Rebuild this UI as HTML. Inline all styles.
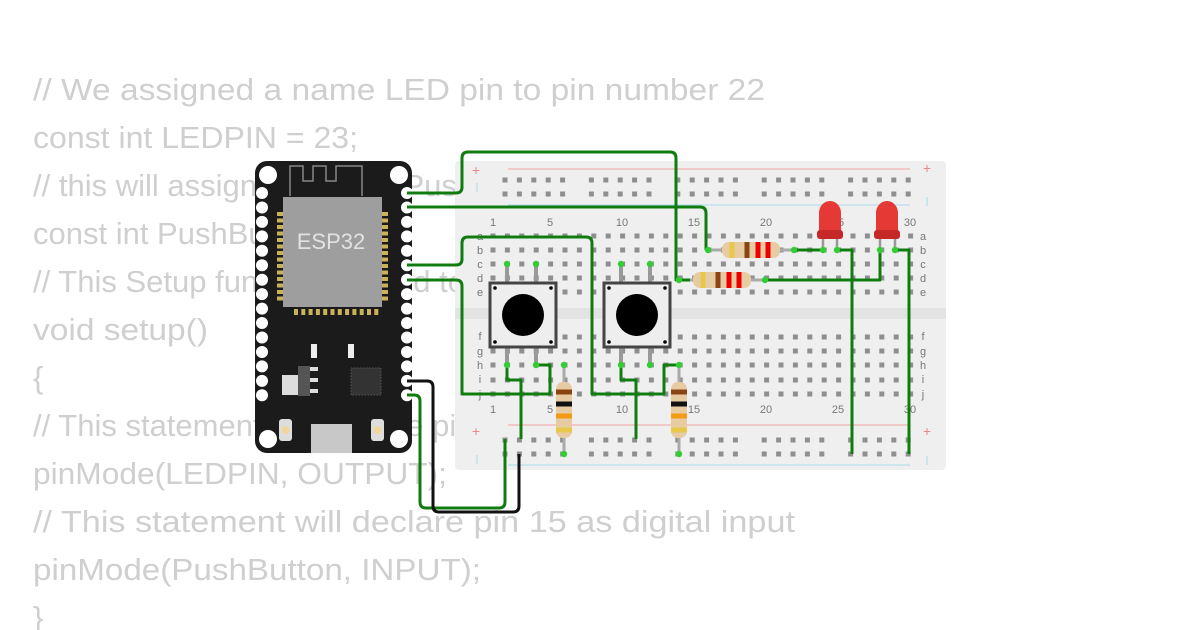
<!DOCTYPE html>
<html><head><meta charset="utf-8"><style>
html,body{margin:0;padding:0;background:#fff;}
svg{display:block}
.code{font-family:"Liberation Sans",sans-serif;font-size:31px;fill:#cfcfcf;}
.n{font-family:"Liberation Sans",sans-serif;font-size:11px;fill:#777;text-anchor:middle}
.pl{font-family:"Liberation Sans",sans-serif;font-size:6px;fill:#ddd}
</style></head><body>
<svg id="s" width="1200" height="630" viewBox="0 0 1200 630" xmlns="http://www.w3.org/2000/svg">
<g class="code">
<text x="33" y="100" textLength="732" lengthAdjust="spacingAndGlyphs">// We assigned a name LED pin to pin number 22</text>
<text x="33" y="148" textLength="325" lengthAdjust="spacingAndGlyphs">const int LEDPIN = 23;</text>
<text x="33" y="196">// this will assign the name PushButton to pin</text>
<text x="33" y="244">const int PushButton = 19;</text>
<text x="33" y="292">// This Setup function is used to</text>
<text x="33" y="340" textLength="175" lengthAdjust="spacingAndGlyphs">void setup()</text>
<text x="33" y="388">{</text>
<text x="33" y="436">// This statement will declare pin 22</text>
<text x="33" y="484" textLength="414" lengthAdjust="spacingAndGlyphs">pinMode(LEDPIN, OUTPUT);</text>
<text x="33" y="532" textLength="762" lengthAdjust="spacingAndGlyphs">// This statement will declare pin 15 as digital input</text>
<text x="33" y="580" textLength="448" lengthAdjust="spacingAndGlyphs">pinMode(PushButton, INPUT);</text>
<text x="33" y="628">}</text>
</g>

<!-- breadboard -->
<rect x="455" y="161" width="491" height="309" rx="4" fill="#efefef"/>
<rect x="455" y="308" width="491" height="11" fill="#e3e3e3"/>
<line x1="508" y1="169" x2="910" y2="169" stroke="#f2a0a0" stroke-width="1"/>
<line x1="508" y1="205" x2="910" y2="205" stroke="#a8d8ea" stroke-width="1"/>
<line x1="508" y1="425" x2="910" y2="425" stroke="#f2a0a0" stroke-width="1"/>
<line x1="508" y1="465" x2="910" y2="465" stroke="#a8d8ea" stroke-width="1"/>
<g font-family="Liberation Sans,sans-serif" font-size="14" fill="#e88" text-anchor="middle">
<text x="476" y="175">+</text><text x="927" y="173">+</text><text x="476" y="436">+</text><text x="927" y="436">+</text></g>
<g stroke="#a8d8ea" stroke-width="1"><line x1="477" y1="183" x2="477" y2="192"/><line x1="927" y1="197" x2="927" y2="206"/><line x1="477" y1="455" x2="477" y2="464"/><line x1="927" y1="456" x2="927" y2="465"/></g>
<g id="holes" fill="#8f8f8f"></g>
<g class="n">
<text x="493" y="226">1</text><text x="550" y="226">5</text><text x="622" y="226">10</text><text x="694" y="226">15</text><text x="766" y="226">20</text><text x="838" y="226">25</text><text x="910" y="226">30</text>
<text x="493" y="413">1</text><text x="550" y="413">5</text><text x="622" y="413">10</text><text x="694" y="413">15</text><text x="766" y="413">20</text><text x="838" y="413">25</text><text x="910" y="413">30</text>
<text x="480" y="240">a</text><text x="480" y="254">b</text><text x="480" y="268">c</text><text x="480" y="282">d</text><text x="480" y="296">e</text>
<text x="480" y="340">f</text><text x="480" y="355">g</text><text x="480" y="369">h</text><text x="480" y="383">i</text><text x="480" y="398">j</text>
<text x="923" y="240">a</text><text x="923" y="254">b</text><text x="923" y="268">c</text><text x="923" y="282">d</text><text x="923" y="296">e</text>
<text x="923" y="340">f</text><text x="923" y="355">g</text><text x="923" y="369">h</text><text x="923" y="383">i</text><text x="923" y="398">j</text>
</g>

<!-- ESP32 -->
<rect x="255" y="161" width="157" height="292" rx="12" fill="#1b1b1b"/>
<g fill="#fff"><circle cx="268" cy="175" r="9"/><circle cx="399" cy="175" r="9"/><circle cx="268" cy="439" r="9"/><circle cx="399" cy="439" r="9"/></g>
<path d="M290 196 V166 H303 V181 H313 V166 H326 V181 H336 V166 H362 V196" fill="none" stroke="#888" stroke-width="1.5"/>
<g id="espins" fill="#fff"></g>
<rect x="283" y="197" width="99" height="110" fill="#9e9e9e"/>
<text x="331" y="249" font-family="Liberation Sans,sans-serif" font-size="22" fill="#e2e2e2" text-anchor="middle">ESP32</text>
<g id="pads" fill="#c9b25a"></g>
<rect x="311" y="344" width="6" height="14" fill="#eee"/><rect x="348" y="344" width="6" height="14" fill="#eee"/>
<rect x="282" y="375" width="16" height="20" fill="#ddd"/><rect x="298" y="366" width="12" height="30" fill="#555"/>
<g fill="#ddd"><rect x="310" y="367" width="8" height="4"/><rect x="310" y="378" width="8" height="4"/><rect x="310" y="389" width="8" height="4"/></g>
<rect x="351" y="368" width="30" height="27" fill="#333" stroke="#555" stroke-dasharray="1.5 1.5"/>
<rect x="311" y="424" width="41" height="29" fill="#c8c8c8"/>
<rect x="279" y="419" width="13" height="22" rx="3" fill="#ddd"/><circle cx="285.5" cy="430" r="4" fill="#f1d79a"/>
<rect x="371" y="419" width="13" height="22" rx="3" fill="#ddd"/><circle cx="377.5" cy="430" r="4" fill="#f1d79a"/>

<!-- buttons -->
<g id="btns"></g>

<!-- resistors -->
<g id="res"></g>

<!-- LEDs -->
<g>
<path d="M823 250 V238 M837 250 V238 M880 250 V238 M895 250 V238" stroke="#999" stroke-width="2.5"/>
<path d="M819 236 V213 a11 12 0 0 1 22 0 V236 Z" fill="#e53935"/><rect x="817" y="230" width="26" height="9" rx="3" fill="#c62828"/>
<path d="M876 236 V213 a11 12 0 0 1 22 0 V236 Z" fill="#e53935"/><rect x="874" y="230" width="26" height="9" rx="3" fill="#c62828"/>
</g>

<!-- wires -->
<g fill="none" stroke="#107c10" stroke-width="3" stroke-linejoin="round">
<path d="M407 193 H456 Q462 193 462 187 V158 Q462 152 468 152 H670 Q676 152 676 158 V280 H690"/>
<path d="M407 207 H700 Q706 207 706 213 V250"/>
<path d="M407 265 H456 Q462 265 462 259 V243 Q462 237 468 237 H586 Q592 237 592 243 V394 H664 V365 H679"/>
<path d="M407 280 H456 Q462 280 462 286 V394 H550 V365 H536"/>
<path d="M507 365 V380 H521 V439"/>
<path d="M621 365 V380 H636 V439"/>
<path d="M407 395 H414 Q420 395 420 401 V502 Q420 508 426 508 H499 Q505 508 505 502 V439"/>
<path d="M794 250 H823"/>
<path d="M765 280 H880 V250"/>
<path d="M837 250 H852 V454"/>
<path d="M895 250 H909 V454"/>
</g>
<path d="M407 381 H427 Q433 381 433 387 V506 Q433 512 439 512 H513 Q519 512 519 506 V454" fill="none" stroke="#111" stroke-width="3"/>
<g fill="#3c3" id="dots"></g>
</svg>
<script>
var NS="http://www.w3.org/2000/svg";
function el(p,t,a){var e=document.createElementNS(NS,t);for(var k in a)e.setAttribute(k,a[k]);document.getElementById(p).appendChild(e);return e;}
var P=14.4,C1=493;
function cx(c){return C1+(c-1)*P;}
var rows=[236,250,264,278,292,337,351,365,380,394];
for(var c=1;c<=30;c++)for(var r=0;r<10;r++)el("holes","rect",{x:cx(c)-2.5,y:rows[r]-2.5,width:5,height:5});
[180,194,440,454].forEach(function(y){for(var g=0;g<5;g++)for(var i=0;i<5;i++){var x=505+g*86.4+i*P;el("holes","rect",{x:x-2.5,y:y-2.5,width:5,height:5});}});
for(var i=0;i<15;i++){el("espins","circle",{cx:262,cy:193+i*14.45,r:6});el("espins","circle",{cx:407,cy:193+i*14.45,r:6});}
for(var i=0;i<14;i++){el("pads","rect",{x:277,y:212+i*6.5,width:6,height:4});el("pads","rect",{x:382,y:212+i*6.5,width:6,height:4});}
for(var i=0;i<12;i++)el("pads","rect",{x:294+i*7.3,y:309,width:4,height:6});
function btn(x){var g="btns";
[x+17,x+46].forEach(function(px){el(g,"rect",{x:px-2,y:266,width:4,height:18,fill:"#999"});el(g,"rect",{x:px-2,y:345,width:4,height:20,fill:"#999"});});
el(g,"rect",{x:x,y:283,width:66,height:64,fill:"#eee",stroke:"#444","stroke-width":3});
el(g,"circle",{cx:x+33,cy:315,r:21,fill:"#000"});
[[5,5],[61,5],[5,59],[61,59]].forEach(function(p){el(g,"circle",{cx:x+p[0],cy:283+p[1],r:1.8,fill:"#000"});});}
btn(490);btn(604);
function hres(x1,x2,y){var g="res";el(g,"line",{x1:x1,y1:y,x2:x2,y2:y,stroke:"#aaa","stroke-width":3});
var m=(x1+x2)/2;el(g,"rect",{x:m-29,y:y-8,width:58,height:16,rx:7,fill:"#e6cba3"});
[[m-19,"#e8c84a"],[m-4,"#8b4513"],[m+7,"#e00"],[m+17,"#e00"]].forEach(function(b){el(g,"rect",{x:b[0]-2.5,y:y-8,width:5,height:16,fill:b[1]});});}
hres(708,794,250);hres(679,765,280);
function vres(x,y1,y2){var g="res";el(g,"line",{x1:x,y1:y1,x2:x,y2:y2,stroke:"#aaa","stroke-width":3});
el(g,"rect",{x:x-8,y:382,width:16,height:56,rx:7,fill:"#e6cba3"});
[[392,"#8b4513"],[404,"#111"],[416,"#f39c12"],[430,"#e8c84a"]].forEach(function(b){el(g,"rect",{x:x-8,y:b[0]-2.5,width:16,height:5,fill:b[1]});});}
vres(564,365,454);vres(679,365,454);
[[507,264],[536,264],[621,264],[650,264],[507,365],[536,365],[564,365],[621,365],[650,365],[679,365],[564,454],[679,454],[708,250],[794,250],[823,250],[837,250],[880,250],[895,250],[679,280],[765,280]].forEach(function(p){el("dots","circle",{cx:p[0],cy:p[1],r:3.2});});
</script>
</body></html>
